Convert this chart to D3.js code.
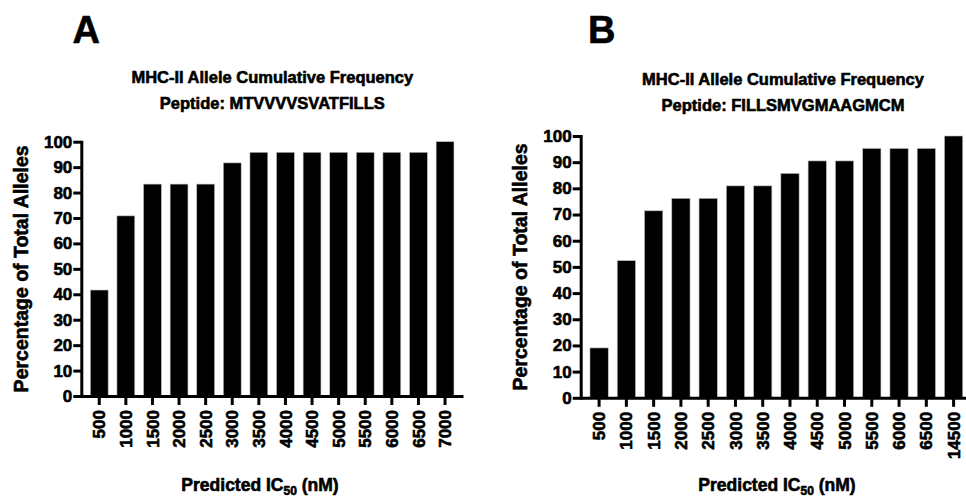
<!DOCTYPE html>
<html>
<head>
<meta charset="utf-8">
<script src="https://cdn.jsdelivr.net/npm/d3@7"></script>
<style>
  html, body { margin: 0; padding: 0; background: #fff; }
  svg { display: block; }
  svg text { stroke: #000; stroke-width: 0.6px; paint-order: stroke; }
</style>
</head>
<body>
<div id="chart"></div>
<script>
// Datos (porcentaje acumulado de alelos)
const categoriesA = ["500", "1000", "1500", "2000", "2500", "3000", "3500", "4000", "4500", "5000", "5500", "6000", "6500", "7000"];
const valuesA = [41.67, 70.83, 83.33, 83.33, 83.33, 91.67, 95.83, 95.83, 95.83, 95.83, 95.83, 95.83, 95.83, 100];

const categoriesB = ["500", "1000", "1500", "2000", "2500", "3000", "3500", "4000", "4500", "5000", "5500", "6000", "6500", "14500"];
const valuesB = [19.05, 52.38, 71.43, 76.19, 76.19, 80.95, 80.95, 85.71, 90.48, 90.48, 95.24, 95.24, 95.24, 100];

const yTicks = [0, 10, 20, 30, 40, 50, 60, 70, 80, 90, 100];

const titleLine1 = "MHC-II Allele Cumulative Frequency";
const peptideA = "Peptide: MTVVVVSVATFILLS";
const peptideB = "Peptide: FILLSMVGMAAGMCM";

const width = 966, height = 497;
const FONT = "'Liberation Sans', Arial, Helvetica, sans-serif";

const svg = d3.select("#chart").append("svg")
  .attr("width", width).attr("height", height)
  .attr("viewBox", [0, 0, width, height])
  .style("font-family", FONT)
  .style("font-weight", "bold");

function drawPanel({letter, letterX, categories, values, peptide, x0, x1, yTop, yBottom, titleX, titleY, yTitleX, xTitleX}) {
  const x = d3.scaleBand().domain(categories).range([x0, x1])
    .paddingInner(0.33).paddingOuter(0.34);
  const y = d3.scaleLinear().domain([0, 100]).range([yBottom, yTop]);

  // Letra del panel
  svg.append("text").attr("x", letterX).attr("y", 42.5)
    .attr("font-size", 38).attr("fill", "#000").text(letter);

  // Títulos
  svg.append("text").attr("x", titleX).attr("y", titleY)
    .attr("text-anchor", "middle").attr("font-size", 16.5).text(titleLine1);
  svg.append("text").attr("x", titleX).attr("y", titleY + 26)
    .attr("text-anchor", "middle").attr("font-size", 16.5).text(peptide);

  // Barras
  svg.append("g").selectAll("rect").data(values).join("rect")
    .attr("x", (d, i) => x(categories[i]))
    .attr("y", d => y(d))
    .attr("width", x.bandwidth())
    .attr("height", d => y(0) - y(d))
    .attr("fill", "#000")
    .attr("stroke", "#bbb").attr("stroke-width", 0.6);

  // Eje Y
  const gy = svg.append("g").attr("transform", `translate(${x0},0)`)
    .call(d3.axisLeft(y).tickValues(yTicks).tickSize(8).tickSizeOuter(0).tickPadding(1));
  gy.select(".domain").attr("stroke-width", 3).attr("stroke-linecap", "square");
  gy.selectAll(".tick line").attr("stroke-width", 3);
  gy.selectAll("text").attr("font-size", 17).attr("font-family", FONT)
    .attr("font-weight", "bold").attr("fill", "#000");

  // Eje X con etiquetas rotadas
  const gx = svg.append("g").attr("transform", `translate(0,${yBottom})`)
    .call(d3.axisBottom(x).tickSize(9).tickSizeOuter(0));
  gx.select(".domain").attr("stroke-width", 3);
  gx.selectAll(".tick line").attr("stroke-width", 3);
  gx.selectAll("text")
    .attr("transform", "rotate(-90)")
    .attr("x", -14).attr("y", 0).attr("dy", "0.36em")
    .attr("text-anchor", "end")
    .attr("font-size", 17).attr("font-family", FONT)
    .attr("font-weight", "bold").attr("fill", "#000");

  // Título eje Y
  svg.append("text")
    .attr("transform", `translate(${yTitleX},${(yTop + yBottom) / 2}) rotate(-90)`)
    .attr("text-anchor", "middle").attr("font-size", 19.5)
    .text("Percentage of Total Alleles");

  // Título eje X con subíndice
  const xt = svg.append("text").attr("x", xTitleX).attr("y", 490.5)
    .attr("text-anchor", "middle").attr("font-size", 17.5);
  xt.append("tspan").text("Predicted IC");
  xt.append("tspan").attr("font-size", 12).attr("dy", 4.5).text("50");
  xt.append("tspan").attr("dy", -4.5).text(" (nM)");
}

drawPanel({
  letter: "A", letterX: 72.5,
  categories: categoriesA, values: valuesA, peptide: peptideA,
  x0: 81.3, x1: 463, yTop: 141.7, yBottom: 396,
  titleX: 272.3, titleY: 83.3, yTitleX: 28, xTitleX: 260
});

drawPanel({
  letter: "B", letterX: 588,
  categories: categoriesB, values: valuesB, peptide: peptideB,
  x0: 580.7, x1: 972, yTop: 136, yBottom: 397.8,
  titleX: 783, titleY: 85, yTitleX: 527, xTitleX: 777
});
</script>
</body>
</html>
